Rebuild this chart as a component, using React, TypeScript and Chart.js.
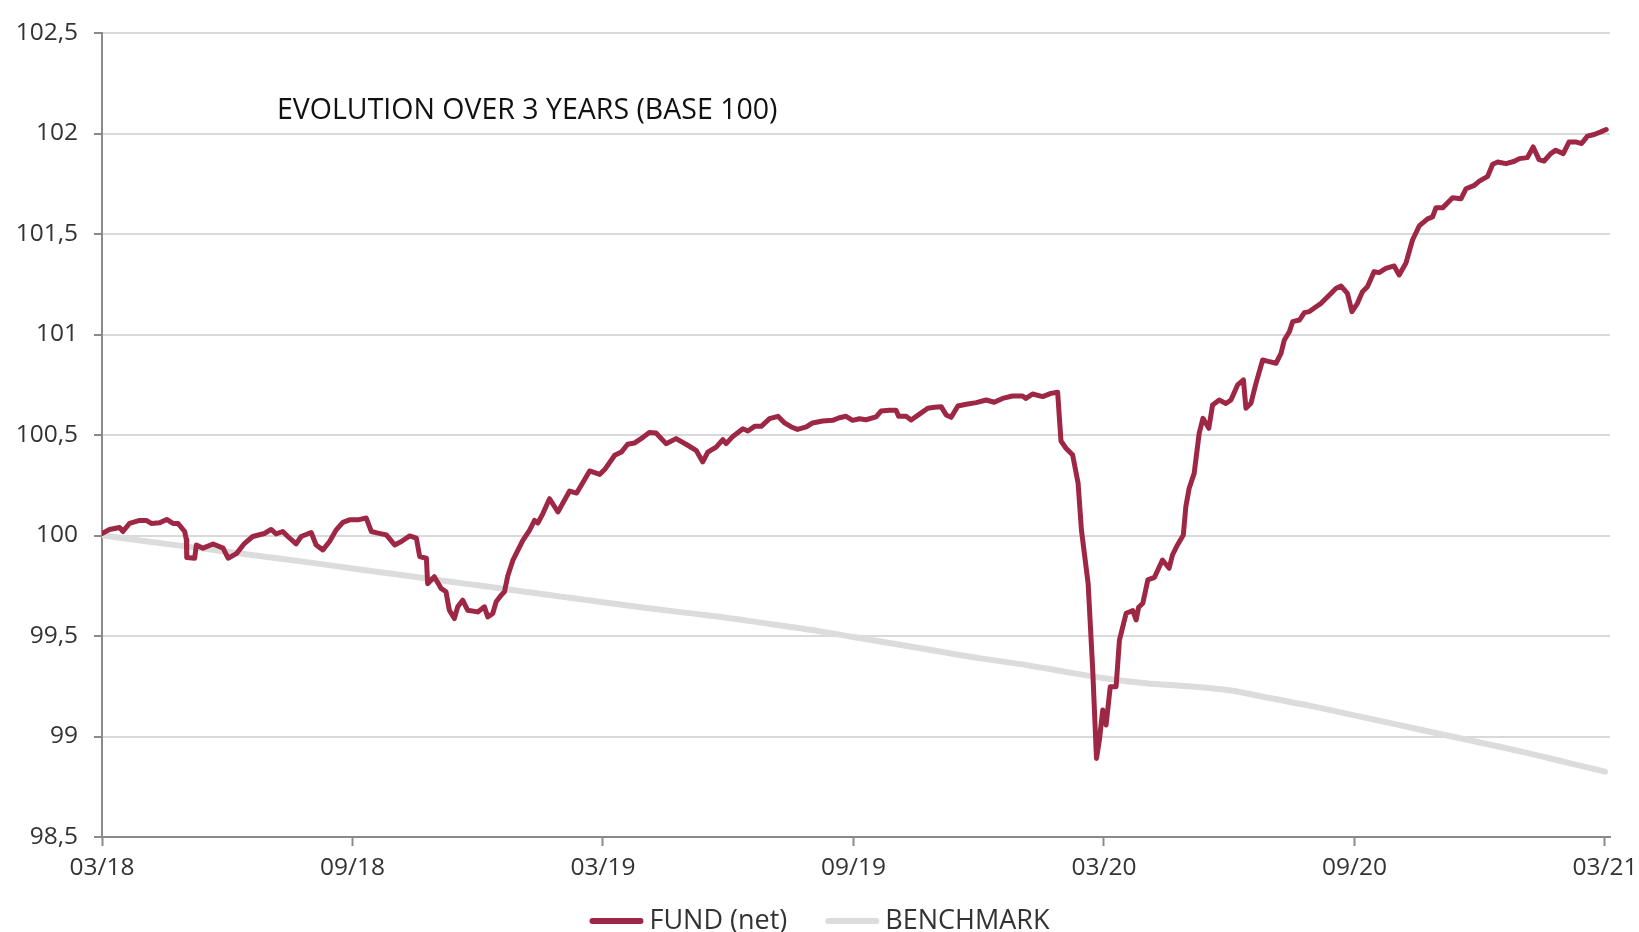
import React, { useEffect, useRef } from "react";
import { Chart, registerables } from "chart.js";

Chart.register(...registerables);

const FONT = '"Open Sans", "Noto Sans", sans-serif';

const chartTitle = "EVOLUTION OVER 3 YEARS (BASE 100)";
const seriesLabels = ["FUND (net)", "BENCHMARK"];
const seriesColors = ["#9d2744", "#dcdcdc"];

// x axis: months since 03/2018
const xTickMonths = [0, 6, 12, 18, 24, 30, 36];
const xTickLabels = ["03/18", "09/18", "03/19", "09/19", "03/20", "09/20", "03/21"];

const yTickValues = [98.5, 99, 99.5, 100, 100.5, 101, 101.5, 102, 102.5];
const yTickLabels = ["98,5", "99", "99,5", "100", "100,5", "101", "101,5", "102", "102,5"];

const fundMonths = [
  0.0, 0.18, 0.42, 0.5, 0.66, 0.9, 1.06, 1.18, 1.38, 1.55, 1.7, 1.82, 1.98, 2.02, 2.03, 2.22, 2.26, 2.42,
  2.66, 2.9, 3.02, 3.22, 3.41, 3.61, 3.89, 4.05, 4.17, 4.33, 4.45, 4.65, 4.77, 5.01, 5.13, 5.29, 5.45, 5.61,
  5.77, 5.93, 6.13, 6.33, 6.45, 6.61, 6.81, 7.01, 7.17, 7.37, 7.53, 7.61, 7.77, 7.8, 7.96, 8.12, 8.24, 8.32,
  8.44, 8.52, 8.64, 8.76, 9.0, 9.16, 9.24, 9.36, 9.44, 9.56, 9.64, 9.72, 9.84, 10.08, 10.24, 10.36, 10.44,
  10.56, 10.72, 10.92, 11.2, 11.37, 11.68, 11.92, 12.04, 12.28, 12.44, 12.59, 12.75, 12.95, 13.11, 13.27,
  13.51, 13.75, 14.03, 14.23, 14.39, 14.51, 14.71, 14.87, 14.95, 15.11, 15.35, 15.47, 15.63, 15.79, 15.99,
  16.19, 16.35, 16.51, 16.66, 16.87, 17.02, 17.26, 17.5, 17.66, 17.82, 17.98, 18.14, 18.3, 18.54, 18.66,
  18.86, 19.02, 19.08, 19.26, 19.38, 19.58, 19.78, 19.94, 20.1, 20.22, 20.34, 20.5, 20.7, 20.94, 21.18,
  21.37, 21.57, 21.81, 22.05, 22.13, 22.29, 22.53, 22.73, 22.89, 22.93, 22.97, 23.09, 23.25, 23.38, 23.46,
  23.62, 23.73, 23.82, 23.89, 23.97, 24.05, 24.15, 24.29, 24.37, 24.53, 24.69, 24.77, 24.83, 24.93, 25.05,
  25.21, 25.4, 25.56, 25.64, 25.76, 25.9, 25.96, 26.04, 26.16, 26.28, 26.37, 26.51, 26.6, 26.76, 26.92,
  27.04, 27.2, 27.34, 27.4, 27.52, 27.64, 27.8, 27.96, 28.12, 28.24, 28.32, 28.44, 28.52, 28.68, 28.8,
  28.92, 29.08, 29.2, 29.4, 29.56, 29.68, 29.83, 29.94, 30.07, 30.19, 30.31, 30.47, 30.59, 30.75, 30.95,
  31.07, 31.23, 31.39, 31.55, 31.75, 31.87, 31.95, 32.11, 32.35, 32.55, 32.67, 32.87, 32.99, 33.19, 33.31,
  33.43, 33.63, 33.83, 33.95, 34.14, 34.28, 34.42, 34.54, 34.7, 34.82, 35.0, 35.14, 35.3, 35.44, 35.58,
  35.74, 35.9, 36.03,
];

const fundValues = [
  100.01, 100.03, 100.04, 100.02, 100.06, 100.075, 100.075, 100.06, 100.063, 100.08, 100.06, 100.06, 100.02,
  99.98, 99.89, 99.887, 99.953, 99.937, 99.958, 99.937, 99.887, 99.91, 99.96, 99.995, 100.01, 100.03,
  100.008, 100.02, 99.995, 99.958, 99.995, 100.015, 99.953, 99.928, 99.97, 100.028, 100.065, 100.078,
  100.078, 100.087, 100.02, 100.012, 100.003, 99.953, 99.97, 99.998, 99.987, 99.895, 99.887, 99.76, 99.795,
  99.737, 99.72, 99.628, 99.587, 99.645, 99.678, 99.628, 99.62, 99.645, 99.595, 99.612, 99.67, 99.703,
  99.72, 99.8, 99.876, 99.976, 100.026, 100.075, 100.062, 100.109, 100.183, 100.117, 100.221, 100.211,
  100.321, 100.304, 100.328, 100.399, 100.415, 100.454, 100.46, 100.487, 100.512, 100.51, 100.457, 100.482,
  100.449, 100.424, 100.366, 100.415, 100.44, 100.477, 100.457, 100.493, 100.531, 100.52, 100.543, 100.543,
  100.581, 100.593, 100.56, 100.54, 100.528, 100.54, 100.56, 100.57, 100.573, 100.586, 100.593, 100.573,
  100.581, 100.576, 100.59, 100.619, 100.623, 100.623, 100.593, 100.593, 100.575, 100.604, 100.633, 100.638,
  100.641, 100.6, 100.588, 100.644, 100.653, 100.661, 100.674, 100.663, 100.682, 100.694, 100.694, 100.682,
  100.704, 100.691, 100.707, 100.713, 100.591, 100.47, 100.434, 100.4, 100.26, 100.027, 99.762, 99.331,
  98.891, 98.983, 99.132, 99.057, 99.248, 99.248, 99.48, 99.613, 99.626, 99.58, 99.643, 99.663, 99.779,
  99.792, 99.878, 99.837, 99.903, 99.953, 100.002, 100.143, 100.235, 100.309, 100.508, 100.583, 100.533,
  100.649, 100.674, 100.657, 100.674, 100.749, 100.774, 100.633, 100.658, 100.757, 100.873, 100.865,
  100.857, 100.906, 100.973, 101.014, 101.064, 101.072, 101.109, 101.114, 101.138, 101.155, 101.197,
  101.23, 101.241, 101.205, 101.114, 101.155, 101.213, 101.238, 101.313, 101.308, 101.329, 101.341,
  101.296, 101.354, 101.47, 101.54, 101.575, 101.585, 101.63, 101.63, 101.68, 101.675, 101.725, 101.742,
  101.763, 101.787, 101.847, 101.858, 101.85, 101.862, 101.875, 101.88, 101.933, 101.87, 101.863, 101.9,
  101.917, 101.9, 101.958, 101.958, 101.95, 101.987, 101.995, 102.008, 102.02,
];

const benchMonths = [
  0, 1, 2, 3, 4, 5, 6, 7, 8, 9, 10, 11, 12, 13, 14, 15, 16, 17, 18, 19, 20, 21, 22, 23, 24, 25, 26, 27, 28,
  29, 30, 31, 32, 33, 34, 35, 36,
];
const benchValues = [
  100, 99.973, 99.946, 99.919, 99.892, 99.865, 99.836, 99.808, 99.78, 99.752, 99.724, 99.696, 99.668,
  99.641, 99.615, 99.59, 99.56, 99.53, 99.495, 99.46, 99.425, 99.39, 99.36, 99.325, 99.29, 99.265, 99.25,
  99.23, 99.19, 99.15, 99.105, 99.06, 99.015, 98.97, 98.925, 98.875, 98.825,
];

const innerTitlePlugin = {
  id: "innerTitle",
  afterDraw(chart: any) {
    const { ctx, chartArea } = chart;
    ctx.save();
    ctx.font = `400 28.5px ${FONT}`;
    ctx.fillStyle = "#111111";
    ctx.textAlign = "left";
    ctx.textBaseline = "middle";
    ctx.fillText(chartTitle, chartArea.left + 175, chartArea.top + 78);
    ctx.restore();
  },
};

const lineLegendPlugin = {
  id: "lineLegend",
  afterDraw(chart: any) {
    const ctx = chart.ctx;
    ctx.save();
    ctx.font = `400 27px ${FONT}`;
    const boxW = 54;
    const gapText = 6;
    const gapItem = 38;
    const widths = seriesLabels.map((t) => boxW + gapText + ctx.measureText(t).width);
    const total = widths.reduce((a, b) => a + b, 0) + gapItem * (widths.length - 1);
    let x = chart.width / 2 - total / 2;
    const y = chart.height - 11;
    seriesLabels.forEach((t, i) => {
      ctx.strokeStyle = seriesColors[i];
      ctx.lineWidth = 6;
      ctx.lineCap = "round";
      ctx.beginPath();
      ctx.moveTo(x + 3, y);
      ctx.lineTo(x + boxW - 3, y);
      ctx.stroke();
      ctx.fillStyle = "#333333";
      ctx.textBaseline = "middle";
      ctx.textAlign = "left";
      ctx.fillText(t, x + boxW + gapText, y);
      x += widths[i] + gapItem;
    });
    ctx.restore();
  },
};

export default function App() {
  const canvasRef = useRef<HTMLCanvasElement | null>(null);

  useEffect(() => {
    if (!canvasRef.current) return;
    const chart = new Chart(canvasRef.current, {
      type: "line",
      data: {
        datasets: [
          {
            label: seriesLabels[0],
            data: fundMonths.map((m, i) => ({ x: m, y: fundValues[i] })),
            borderColor: seriesColors[0],
            backgroundColor: seriesColors[0],
            borderWidth: 5,
            pointRadius: 0,
            borderJoinStyle: "round",
            borderCapStyle: "round",
            tension: 0,
          },
          {
            label: seriesLabels[1],
            data: benchMonths.map((m, i) => ({ x: m, y: benchValues[i] })),
            borderColor: seriesColors[1],
            backgroundColor: seriesColors[1],
            borderWidth: 6,
            pointRadius: 0,
            borderJoinStyle: "round",
            borderCapStyle: "round",
            cubicInterpolationMode: "monotone",
          },
        ],
      },
      options: {
        animation: false,
        responsive: false,
        devicePixelRatio: 1,
        layout: { padding: { left: 0, top: 33, right: 29, bottom: 35 } },
        plugins: {
          tooltip: { enabled: false },
          legend: { display: false },
        },
        scales: {
          x: {
            type: "linear",
            min: 0,
            max: 36.12,
            afterBuildTicks: (scale: any) => {
              scale.ticks = xTickMonths.map((v) => ({ value: v }));
            },
            afterFit: (scale: any) => {
              scale.height = 60;
              scale.paddingLeft = 0;
              scale.paddingRight = 0;
            },
            border: { display: true, color: "#8a8a8a", width: 2 },
            grid: {
              drawOnChartArea: false,
              drawTicks: true,
              tickLength: 9,
              tickColor: "#8a8a8a",
              tickWidth: 2,
            },
            ticks: {
              autoSkip: false,
              maxRotation: 0,
              padding: 7,
              color: "#333333",
              font: { family: FONT, size: 24.5 },
              callback: (v: any) => {
                const idx = xTickMonths.indexOf(Number(v));
                return idx >= 0 ? xTickLabels[idx] : "";
              },
            },
          },
          y: {
            type: "linear",
            min: 98.5,
            max: 102.5,
            afterBuildTicks: (scale: any) => {
              scale.ticks = yTickValues.map((v) => ({ value: v }));
            },
            afterFit: (scale: any) => {
              scale.width = 102;
            },
            border: { display: true, color: "#8a8a8a", width: 2 },
            grid: {
              color: "#d9d9d9",
              lineWidth: 2,
              drawTicks: true,
              tickLength: 8,
              tickColor: "#8a8a8a",
              tickWidth: 2,
            },
            ticks: {
              padding: 16,
              color: "#333333",
              font: { family: FONT, size: 24.5 },
              callback: (v: any) => {
                const idx = yTickValues.indexOf(Number(v));
                return idx >= 0 ? yTickLabels[idx] : "";
              },
            },
          },
        },
      },
      plugins: [innerTitlePlugin, lineLegendPlugin],
    } as any);
    return () => chart.destroy();
  }, []);

  return (
    <div style={{ position: "fixed", left: 0, top: 0, width: 1639, height: 932, background: "#ffffff" }}>
      <canvas ref={canvasRef} width={1639} height={932} style={{ display: "block", width: 1639, height: 932 }} />
    </div>
  );
}
